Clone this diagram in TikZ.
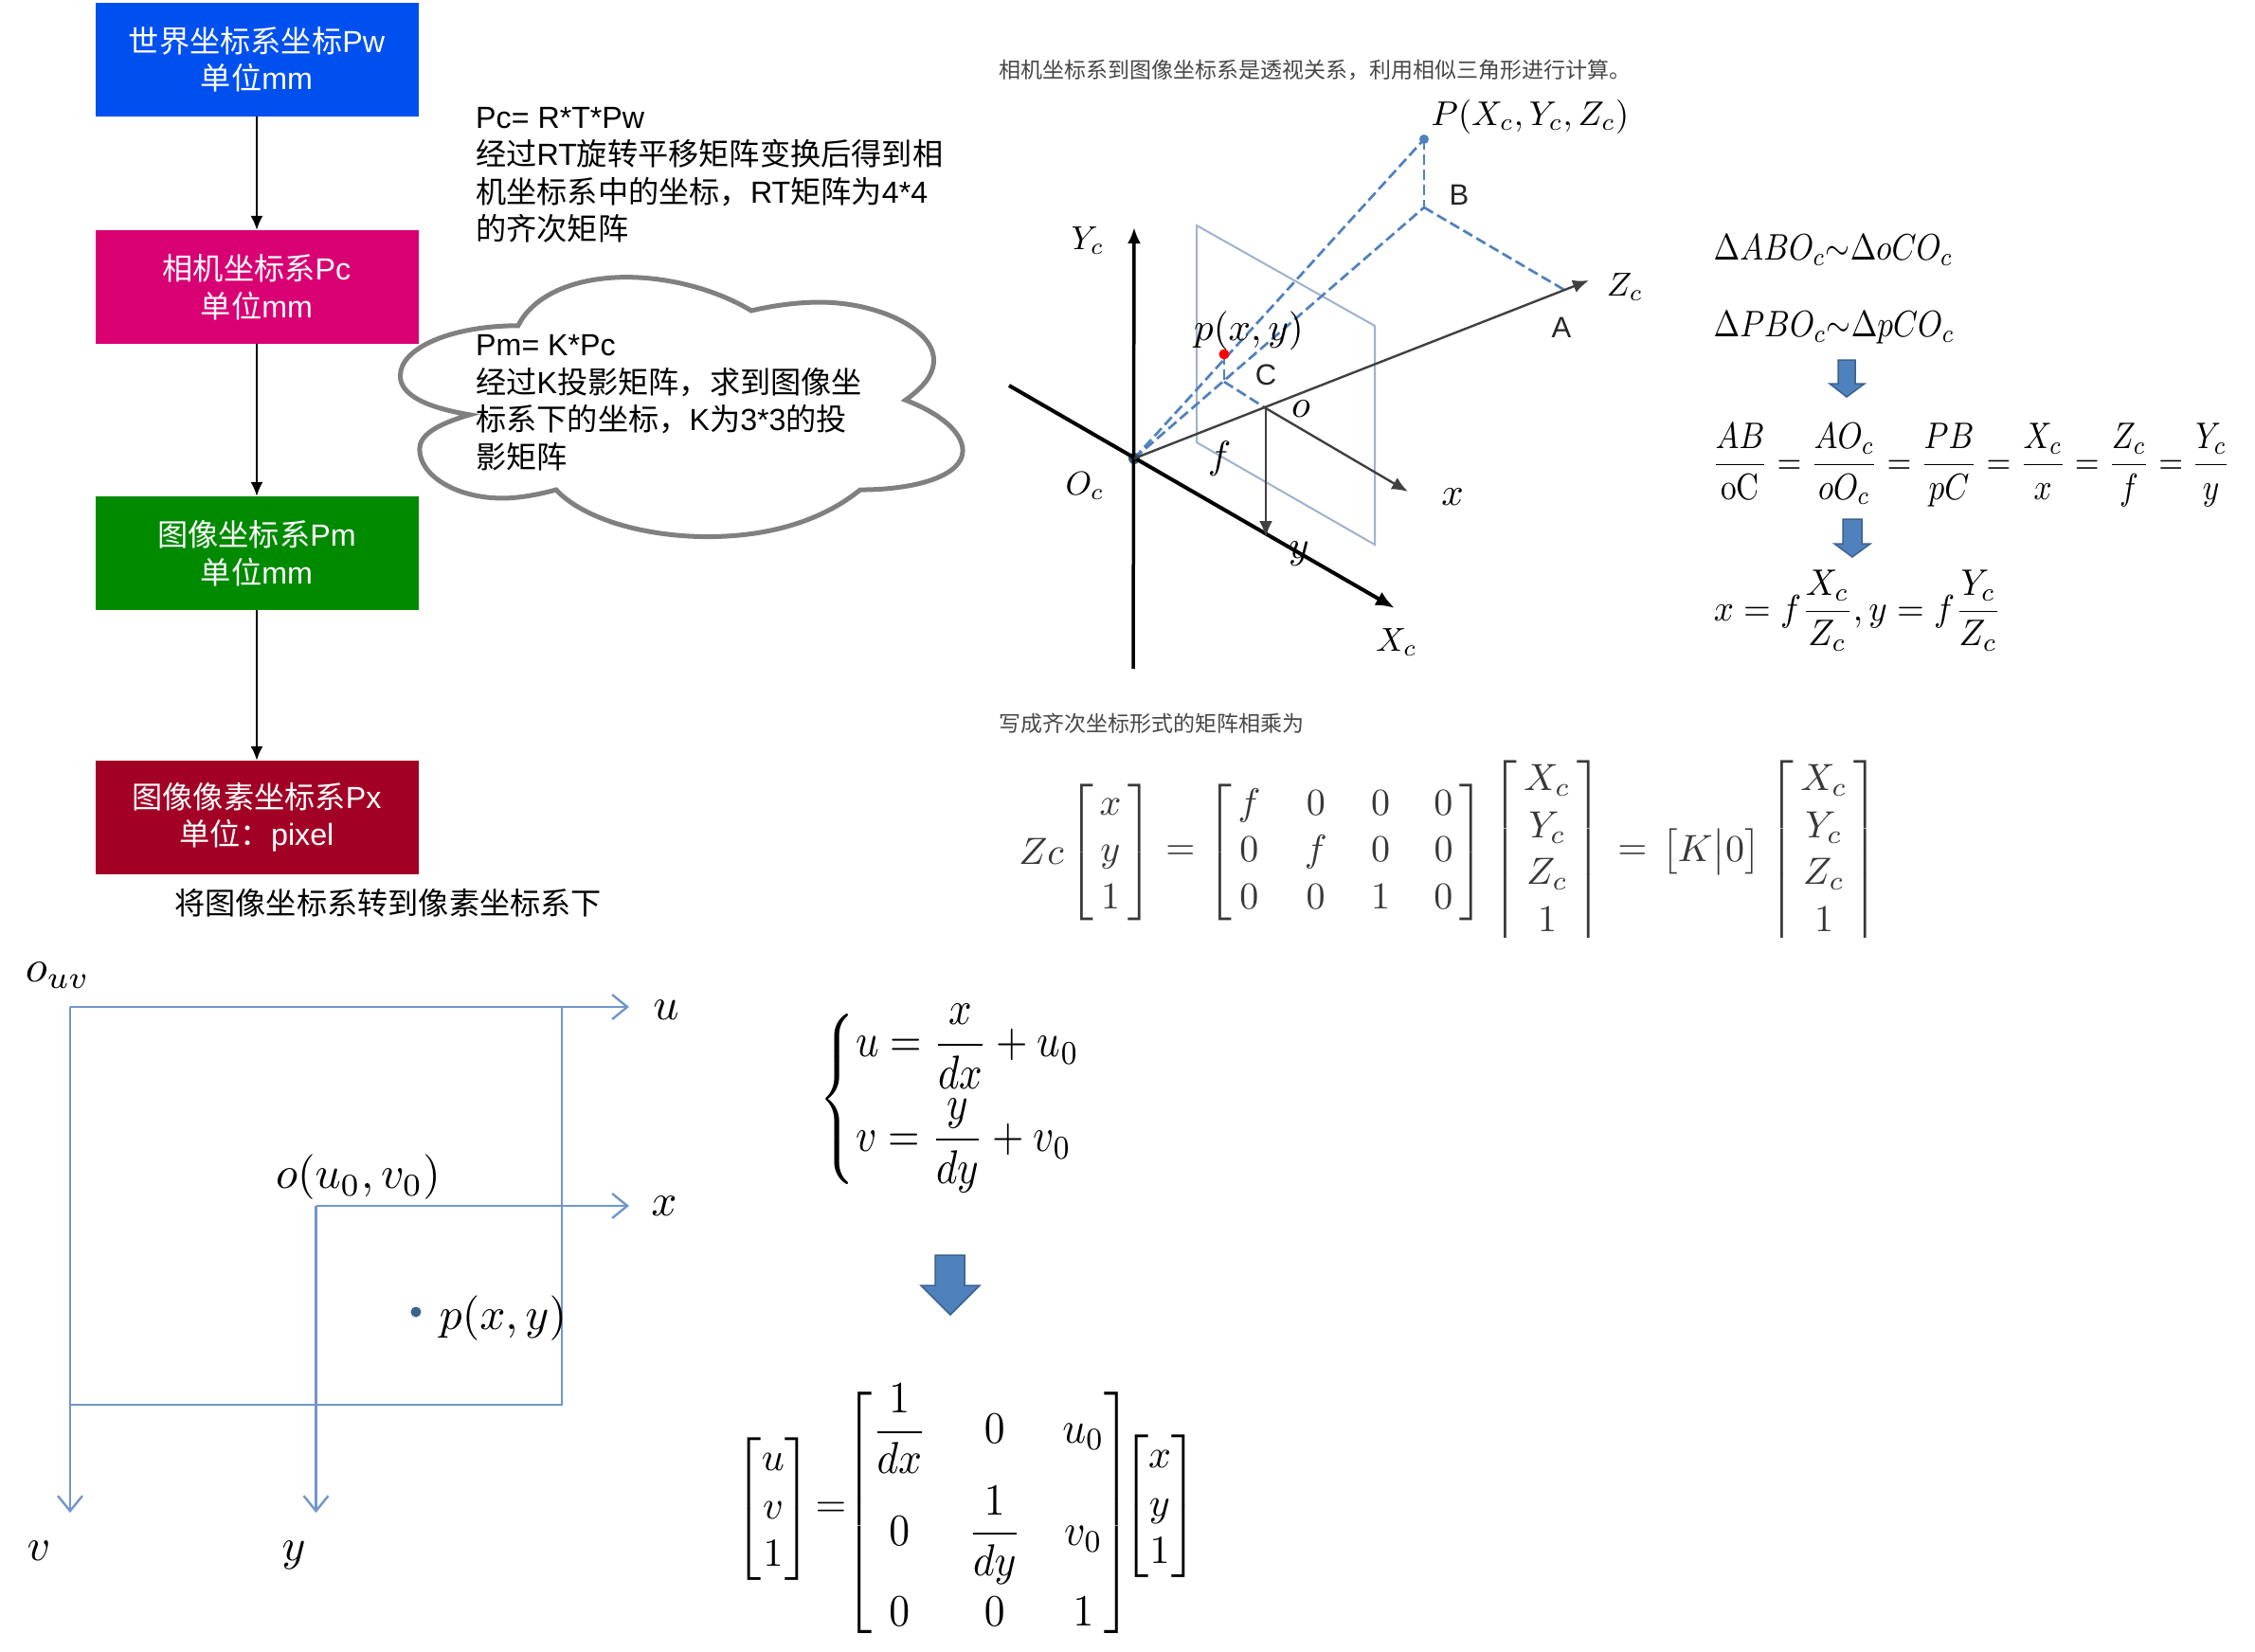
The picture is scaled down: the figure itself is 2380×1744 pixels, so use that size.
\documentclass[tikz,border=0pt]{standalone}
\usepackage{amsmath}
\usepackage{fontspec}
\usetikzlibrary{arrows.meta}
\newfontfamily\arial{Liberation Sans}
\newfontfamily\cjk{Noto Sans CJK SC}
\newcommand{\zh}[1]{{\cjk #1}}
\definecolor{pblue}{HTML}{4F81BD}
\definecolor{fblue}{HTML}{7096CC}
\tikzset{
  flowbox/.style={rectangle,minimum width=341pt,minimum height=120pt,inner sep=0pt,align=center,text=white,font=\arial\fontsize{32.2}{39.5}\selectfont},
  flowarrow/.style={draw=black,line width=1.8pt,-{Latex[length=15pt,width=13pt]}},
  note/.style={anchor=west,inner sep=0pt,align=left,font=\arial\fontsize{32.2}{39.5}\selectfont},
  caption/.style={anchor=west,inner sep=0pt,text=black!72,font=\cjk\fontsize{23}{28}\selectfont},
  lab/.style={inner sep=0pt,scale=3.5,text=black},
  labb/.style={inner sep=0pt,scale=4.1,text=black},
  flab/.style={inner sep=0pt,scale=4.75,text=black},
  eq/.style={inner sep=0pt,xscale=3.32,yscale=3.9,text=black},
  eqf/.style={inner sep=0pt,xscale=3.7,yscale=3.9,text=black},
  mat/.style={inner sep=0pt,scale=4,text=black!78},
  casesb/.style={inner sep=0pt,xscale=4.3,yscale=5,text=black},
  mbig/.style={inner sep=0pt,xscale=4.35,yscale=4.72,text=black},
  eqb/.style={inner sep=0pt,scale=4.2,text=black},
  plain/.style={inner sep=0pt,font=\arial\fontsize{31}{36}\selectfont,text=black!85},
  proj/.style={draw=pblue,line width=2.7pt,dash pattern=on 11pt off 5pt},
  plane/.style={draw=black!15!fblue!60!white,line width=2pt},
  bigarrow/.style={fill=pblue,draw=pblue!75!black,line width=1.5pt},
  frame/.style={draw=fblue,line width=2.6pt},
  framearrow/.style={frame,-{Straight Barb[length=16pt,width=26pt,line width=2.4pt]}}
}
\begin{document}
\begin{tikzpicture}[x=1pt,y=-1pt]
\useasboundingbox (0,0) rectangle (2380,1744);
\fill[white] (0,0) rectangle (2380,1744);

% flow chart
\node[flowbox,fill={rgb,255:red,0;green,80;blue,239}] (b1) at (271,63) {\zh{世界坐标系坐标}Pw\\\zh{单位}mm};
\node[flowbox,fill={rgb,255:red,216;green,0;blue,115}] (b2) at (271,303) {\zh{相机坐标系}Pc\\\zh{单位}mm};
\node[flowbox,fill={rgb,255:red,0;green,138;blue,0}] (b3) at (271,584) {\zh{图像坐标系}Pm\\\zh{单位}mm};
\node[flowbox,fill={rgb,255:red,162;green,0;blue,37}] (b4) at (271,863) {\zh{图像像素坐标系}Px\\\zh{单位：}pixel};
\draw[flowarrow] (b1) -- (b2);
\draw[flowarrow] (b2) -- (b3);
\draw[flowarrow] (b3) -- (b4);
\node[note] (n1) at (502,185) {Pc= R*T*Pw\\\zh{经过}RT\zh{旋转平移矩阵变换后得到相}\\\zh{机坐标系中的坐标，}RT\zh{矩阵为}4*4\\\zh{的齐次矩阵}};
\node[note,anchor=west] (n3) at (184,953) {\zh{将图像坐标系转到像素坐标系下}};

% cloud
\begin{scope}[x=0.408pt,y=-0.33pt,xshift=400pt,yshift=-93pt]
\draw[draw=black!50,line width=5pt,line join=miter,fill=white]
 (235,1045) .. controls (90,1015) and (55,965) .. (55,920)
 .. controls (55,830) and (190,760) .. (360,760)
 .. controls (400,660) and (510,605) .. (640,605)
 .. controls (760,605) and (880,650) .. (963,712)
 .. controls (1040,690) and (1100,685) .. (1140,685)
 .. controls (1290,685) and (1435,770) .. (1435,870)
 .. controls (1435,920) and (1405,960) .. (1362,998)
 .. controls (1450,1040) and (1510,1100) .. (1510,1160)
 .. controls (1510,1240) and (1390,1285) .. (1245,1285)
 .. controls (1140,1390) and (1000,1435) .. (850,1435)
 .. controls (690,1435) and (530,1380) .. (458,1285)
 .. controls (400,1305) and (350,1312) .. (320,1312)
 .. controls (200,1312) and (105,1240) .. (105,1155)
 .. controls (105,1110) and (150,1075) .. (235,1045) -- cycle;
\end{scope}
\node[note] (n2) at (502,425) {Pm= K*Pc\\\zh{经过}K\zh{投影矩阵，求到图像坐}\\\zh{标系下的坐标，}K\zh{为}3*3\zh{的投}\\\zh{影矩阵}};

% captions
\node[caption] (c1) at (1054,74) {相机坐标系到图像坐标系是透视关系，利用相似三角形进行计算。};
\node[caption] (c2) at (1054,764) {写成齐次坐标形式的矩阵相乘为};

% camera diagram
\coordinate (Oc) at (1197,484);
\coordinate (Yt) at (1197,240);
\coordinate (Yb) at (1196,706);
\coordinate (Xs) at (1065,407);
\coordinate (Xe) at (1472,642);
\coordinate (Ze) at (1677,296);
\coordinate (P) at (1503,147);
\coordinate (B) at (1503,219);
\coordinate (A) at (1651,306);
\coordinate (pp) at (1292,374);
\coordinate (C) at (1292,403);
\coordinate (o) at (1336,431);
\coordinate (xe) at (1486,519);
\coordinate (ye) at (1336,567);
\coordinate (q1) at (1263,238);
\coordinate (q2) at (1451,344);
\coordinate (q3) at (1451,575);
\coordinate (q4) at (1263,467);
\draw[plane] (q1) -- (q2) -- (q3) -- (q4) -- cycle;
\draw[proj] (P) -- (B);
\draw[proj] (B) -- (A);
\draw[proj] (Oc) -- (B);
\draw[proj] (Oc) -- (P);
\draw[proj] (pp) -- (C);
\draw[proj] (C) -- (o);
\fill[pblue] (P) circle (5pt);
\fill[red] (pp) circle (5.5pt);
\fill[pblue!70!black] (Oc) circle (6pt);
\draw[black,line width=3.5pt,-{Latex[length=17pt,width=14pt]}] (Yb) -- (Yt);
\draw[black,line width=4pt,-{Latex[length=20pt,width=16pt]}] (Xs) -- (Xe);
\draw[black!75,line width=2.4pt,-{Latex[length=17pt,width=14pt]}] (Oc) -- (Ze);
\draw[black!75,line width=2.4pt,-{Latex[length=17pt,width=14pt]}] (o) -- (xe);
\draw[black!75,line width=2.4pt,-{Latex[length=17pt,width=14pt]}] (o) -- (ye);
\node[inner sep=0pt,scale=3.62,text=black] (lP) at (1615,123) {$P(X_c,Y_c,Z_c)$};
\node[plain] (lB) at (1540,206) {B};
\node[lab] (lYc) at (1148,254) {$Y_c$};
\node[lab] (lZc) at (1715,303) {$Z_c$};
\node[plain] (lA) at (1648,346) {A};
\node[labb] (lp) at (1318,349) {$p(x,y)$};
\node[plain] (lC) at (1336,396) {C};
\node[labb] (lo) at (1373,432) {$o$};
\node[labb] (lf) at (1287,484) {$f$};
\node[lab] (lOc) at (1145,513) {$O_c$};
\node[labb] (lx) at (1533,525) {$x$};
\node[labb] (ly) at (1371,585) {$y$};
\node[lab] (lXc) at (1474,678) {$X_c$};

% similar triangle equations
\node[eq,anchor=west] (e1) at (1808,264) {$\Delta ABO_c{\sim}\Delta oCO_c$};
\node[eq,anchor=west] (e2) at (1808,346) {$\Delta PBO_c{\sim}\Delta pCO_c$};
\node[eq,anchor=west] (e3) at (1806,491) {$\dfrac{AB}{\mathrm{oC}}=\dfrac{AO_c}{oO_c}=\dfrac{PB}{pC}=\dfrac{X_c}{x}=\dfrac{Z_c}{f}=\dfrac{Y_c}{y}$};
\node[eqf,anchor=west] (e4) at (1808,645) {$x=f\dfrac{X_c}{Z_c},y=f\dfrac{Y_c}{Z_c}$};
\draw[bigarrow] (1940,380) -- (1958,380) -- (1958,405) -- (1968,405) -- (1949,419) -- (1931,405) -- (1940,405) -- cycle;
\draw[bigarrow] (1945,548) -- (1965,548) -- (1965,574) -- (1974,574) -- (1955,588) -- (1936,574) -- (1945,574) -- cycle;

% homogeneous matrix equation
\begin{scope}
\clip (1040,780) rectangle (2000,989);
\renewcommand{\arraystretch}{1.04}
\node[mat] (mz) at (1099,899) {$Zc$};
\node[mat] (m1) at (1172,900) {$\begin{bmatrix}\,x\,\\y\\1\end{bmatrix}$};
\node[mat] (meq1) at (1246,900) {$=$};
\node[mat] (m2) at (1420,900) {\arraycolsep=5.8pt$\begin{bmatrix}\,f&0&0&0\,\\\,0&f&0&0\,\\\,0&0&1&0\,\end{bmatrix}$};
\node[mat] (m3) at (1633,899) {$\begin{bmatrix}\,X_c\,\\Y_c\\Z_c\\1\end{bmatrix}$};
\node[mat] (meq2) at (1723,900) {$=$};
\node[mat] (mk) at (1806,899) {$\big[K\big|0\big]$};
\node[mat] (m4) at (1925,899) {$\begin{bmatrix}\,X_c\,\\Y_c\\Z_c\\1\end{bmatrix}$};
\end{scope}

% image/pixel frames
\coordinate (O1) at (74,1063);
\coordinate (ue) at (664,1063);
\coordinate (ve) at (74,1597);
\coordinate (R1) at (593,1063);
\coordinate (R2) at (593,1483);
\coordinate (L2) at (74,1483);
\coordinate (O2) at (333.5,1273);
\coordinate (xe2) at (664,1273);
\coordinate (ye2) at (333.5,1597);
\draw[framearrow] (O1) -- (ue);
\draw[framearrow] (O1) -- (ve);
\draw[frame] (R1) -- (R2) -- (L2);
\draw[framearrow] (O2) -- (xe2);
\draw[framearrow] (O2) -- (ye2);
\fill[pblue!75!black] (439,1385) circle (5.5pt);
\node[flab] (fo) at (61,1030) {$o_{uv}$};
\node[flab] (fu) at (703,1066) {$u$};
\node[flab] (fx) at (701,1273) {$x$};
\node[flab] (fo2) at (378,1243) {$o(u_0,v_0)$};
\node[flab] (fp) at (531,1392) {$p(x,y)$};
\node[flab] (fv) at (41,1637) {$v$};
\node[flab] (fy) at (310,1642) {$y$};

% cases
\node[casesb] (cs) at (1026,1160) {$\begin{cases}u=\dfrac{x}{dx}+u_0\\[4.6pt]v=\dfrac{y}{dy}+v_0\end{cases}$};
\draw[bigarrow] (987,1325) -- (1018,1325) -- (1018,1357) -- (1034,1357) -- (1003,1388) -- (972,1357) -- (987,1357) -- cycle;

% pixel matrix
\node[eqb] (v1) at (816,1593) {$\begin{bmatrix}u\\v\\1\end{bmatrix}$};
\node[eqb] (eq3) at (877,1594) {$=$};
\node[mbig] (mm) at (1043,1597) {$\begin{bmatrix}\dfrac{1}{dx}&0&u_0\\[6pt]0&\dfrac{1}{dy}&v_0\\[6pt]0&0&1\end{bmatrix}$};
\node[eqb] (v2) at (1224,1590) {$\begin{bmatrix}x\\y\\1\end{bmatrix}$};
\end{tikzpicture}
\end{document}
